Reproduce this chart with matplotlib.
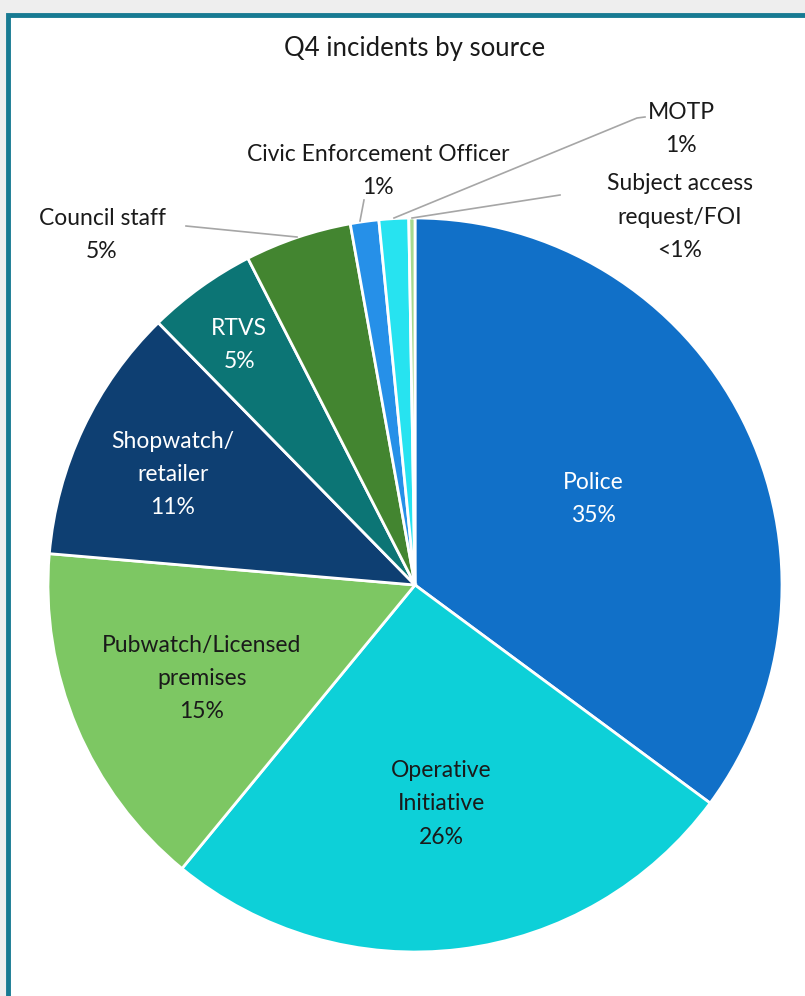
import numpy as np
import matplotlib.pyplot as plt
from matplotlib.patches import Rectangle

plt.rcParams['font.family'] = ['Lato', 'DejaVu Sans']

title = 'Q4 incidents by source'
labels = ['Police', 'Operative\nInitiative', 'Pubwatch/Licensed\npremises', 'Shopwatch/\nretailer',
          'RTVS', 'Council staff', 'Civic Enforcement Officer', 'MOTP', 'Subject access\nrequest/FOI']
values = [35.1, 25.8, 15.4, 11.3, 4.8, 4.7, 1.25, 1.3, 0.27]
pct_text = ['35%', '26%', '15%', '11%', '5%', '5%', '1%', '1%', '<1%']
colors = ['#1170c8', '#0dd0d8', '#7dc763', '#0e3f72', '#0c7575', '#438530',
          '#2690e8', '#27e3f0', '#a6d98f']
text_colors = ['white', '#1a1a1a', '#1a1a1a', 'white', 'white']

W, H = 805, 996
fig = plt.figure(figsize=(W / 100, H / 100), dpi=100)
fig.patch.set_facecolor('#eeeeee')
ax = fig.add_axes([0, 0, 1, 1])

# framed white panel
ax.add_patch(Rectangle((8, -20), 820, H - 15 + 20, facecolor='white',
                       edgecolor='#177a92', linewidth=3.5, zorder=0))

cx, cy, r = 415, H - 585, 367
wedges, _ = ax.pie(values, colors=colors, startangle=90, counterclock=False,
                   center=(cx, cy), radius=r, frame=True,
                   wedgeprops=dict(edgecolor='white', linewidth=2))
ax.set_xlim(0, W)
ax.set_ylim(0, H)
ax.set_aspect('equal')
ax.axis('off')

ax.text(cx, H - 48, title, ha='center', va='center', fontsize=18.5, color='#1a1a1a')

fs = 16.5
ls = 1.72
# inside labels
rfac = [0.545, 0.59, 0.63, 0.73, 0.82]
for i in range(5):
    w = wedges[i]
    ang = np.deg2rad((w.theta1 + w.theta2) / 2)
    x = cx + rfac[i] * r * np.cos(ang)
    y = cy + rfac[i] * r * np.sin(ang) - 4
    ax.text(x, y, labels[i] + '\n' + pct_text[i], ha='center', va='center',
            fontsize=fs, color=text_colors[i], linespacing=ls)

# outside labels with leader lines
outside = {
    5: ((102, H - 235), [(186, H - 226), (297, H - 237)]),
    6: ((378, H - 171), [(364, H - 200), (360, H - 221)]),
    7: ((681, H - 129), [(645, H - 117), (637, H - 118), (394, H - 218)]),
    8: ((680, H - 217), [(560, H - 195), (412, H - 218)]),
}
for i, (pos, pts) in outside.items():
    ax.text(pos[0], pos[1], labels[i] + '\n' + pct_text[i], ha='center', va='center',
            fontsize=fs, color='#1a1a1a', linespacing=ls)
    xs, ys = zip(*pts)
    ax.plot(xs, ys, color='#a6a6a6', linewidth=1.2, zorder=1)

fig.savefig('out.png', dpi=100, facecolor=fig.get_facecolor())
